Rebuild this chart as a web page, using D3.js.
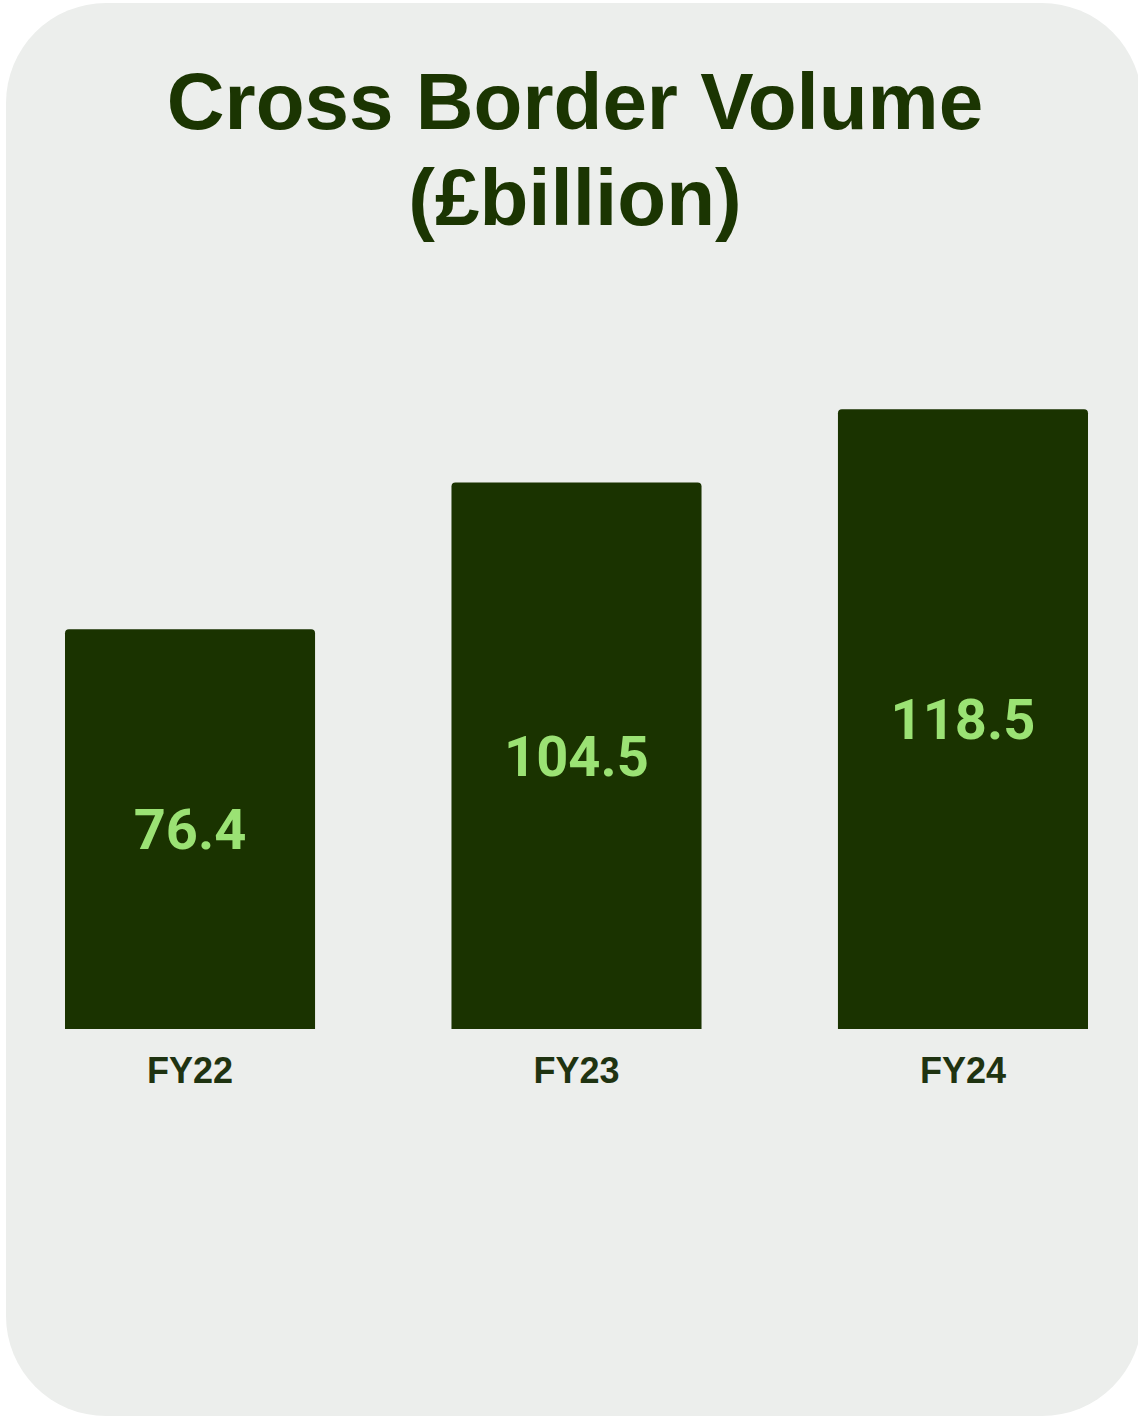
<!DOCTYPE html>
<html>
<head>
<meta charset="utf-8">
<script src="https://cdn.jsdelivr.net/npm/d3@7"></script>
<style>
  html, body { margin: 0; padding: 0; background: #ffffff; }
  svg { display: block; }
</style>
</head>
<body>
<div id="chart"></div>
<script>
// Cross border volume by financial year, £ billion
const categories = ["FY22", "FY23", "FY24"];
const values = [76.4, 104.5, 118.5];
const titleLines = ["Cross Border Volume", "(£billion)"];

const W = 1138, H = 1417;
const svg = d3.select("#chart").append("svg")
  .attr("width", W).attr("height", H);

// card background
svg.append("rect")
  .attr("x", 6).attr("y", 3)
  .attr("width", 1136).attr("height", 1413)
  .attr("rx", 100).attr("ry", 100)
  .attr("fill", "#eceeec");

// title
const title = svg.append("text")
  .attr("text-anchor", "middle")
  .attr("font-family", "'Liberation Sans', Arial, sans-serif")
  .attr("font-weight", 700)
  .attr("font-size", 80)
  .attr("fill", "#1b3502");
title.selectAll("tspan").data(titleLines).join("tspan")
  .attr("x", 575)
  .attr("y", (d, i) => 129 + i * 96)
  .text(d => d);

const x = d3.scaleBand()
  .domain(categories)
  .range([65, 1088])
  .paddingInner(0.353)
  .paddingOuter(0);

const y = d3.scaleLinear()
  .domain([0, 130])
  .range([1029, 349]);

// bar with slightly rounded top corners
function barPath(x0, y0, w, h, r) {
  return `M${x0},${y0 + h}V${y0 + r}Q${x0},${y0} ${x0 + r},${y0}` +
    `H${x0 + w - r}Q${x0 + w},${y0} ${x0 + w},${y0 + r}V${y0 + h}Z`;
}

const data = categories.map((c, i) => ({ c, v: values[i] }));

svg.append("g").selectAll("path").data(data).join("path")
  .attr("d", d => barPath(x(d.c), y(d.v), x.bandwidth(), y(0) - y(d.v), 4))
  .attr("fill", "#1a3300");

// value labels centred in each bar
svg.append("g").selectAll("text").data(data).join("text")
  .attr("x", d => x(d.c) + x.bandwidth() / 2)
  .attr("y", d => (y(d.v) + y(0)) / 2)
  .attr("dy", "0.355em")
  .attr("text-anchor", "middle")
  .attr("font-family", "Roboto, sans-serif")
  .attr("font-weight", 700)
  .attr("font-size", 56)
  .attr("fill", "#9be274")
  .text(d => d.v.toFixed(1));

// category axis
const xAxis = svg.append("g")
  .attr("transform", `translate(0,${y(0)})`)
  .call(d3.axisBottom(x).tickSize(0).tickPadding(0));
xAxis.select(".domain").remove();
xAxis.selectAll("text")
  .attr("y", 54)
  .attr("dy", 0)
  .attr("font-family", "'Liberation Sans', Arial, sans-serif")
  .attr("font-weight", 700)
  .attr("font-size", 36)
  .attr("fill", "#1f3311");
</script>
</body>
</html>
